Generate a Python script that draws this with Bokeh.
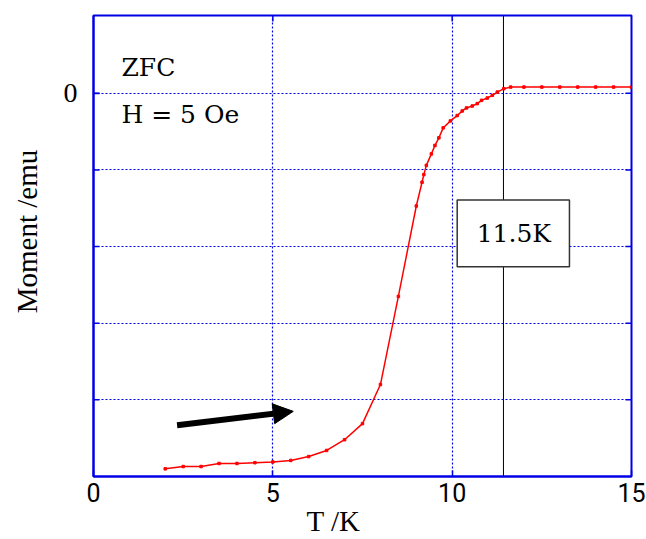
import math
from bokeh.plotting import figure
from bokeh.models import FixedTicker, Range1d, Arrow, NormalHead, Label
from bokeh.embed import file_html
from bokeh.resources import INLINE

# ---- data ----
temperature = [2.0, 2.5, 3.0, 3.5, 4.0, 4.5, 5.0, 5.5, 6.0, 6.5, 7.0, 7.5, 8.0, 8.5, 9.0,
               9.16, 9.21, 9.28, 9.42, 9.52, 9.63, 9.75, 9.95, 10.14, 10.28, 10.40, 10.56,
               10.70, 10.82, 10.98, 11.12, 11.26, 11.44, 11.63, 12.0, 12.5, 13.0, 13.5,
               14.0, 14.5, 15.0]
moment = [-4.90, -4.87, -4.87, -4.83, -4.83, -4.82, -4.81, -4.79, -4.74, -4.66, -4.52,
          -4.31, -3.80, -2.65, -1.47, -1.16, -1.06, -0.94, -0.79, -0.68, -0.58, -0.45,
          -0.36, -0.29, -0.23, -0.19, -0.165, -0.134, -0.091, -0.061, -0.026, 0.017,
          0.061, 0.082, 0.082, 0.082, 0.082, 0.082, 0.082, 0.082, 0.082]
x_ticks = [0, 5, 10, 15]
y_ticks = [-4, -3, -2, -1, 0]
y_labeled_ticks = [0]
tc_value = 11.43
tc_label = "11.5K"
note_lines = ["ZFC", "H = 5 Oe"]
x_title = "T /K"
y_title = "Moment /emu"

NB = "\u00a0"
BLUE = "#0000e6"
ANNOT_FONT = "DejaVu Serif"
X0, X1 = 0, 15
Y0, Y1 = -5, 1.016

p = figure(width=646, height=539, output_backend="svg", toolbar_location=None,
           x_range=Range1d(X0, X1), y_range=Range1d(Y0, Y1),
           min_border_left=93, min_border_right=15, min_border_top=15,
           min_border_bottom=62,
           x_axis_label=x_title + NB * 8, y_axis_label=NB * 4 + y_title)
p.background_fill_color = "white"
p.border_fill_color = "white"
p.outline_line_color = BLUE
p.outline_line_width = 2

for ax in p.xaxis + p.yaxis:
    ax.axis_line_color = BLUE
    ax.axis_line_width = 2
    ax.major_tick_line_color = BLUE
    ax.major_tick_line_width = 1.5
    ax.major_tick_in = 6
    ax.major_tick_out = 0
    ax.minor_tick_line_color = None
    ax.axis_label_text_font = "Liberation Serif"
    ax.axis_label_text_font_size = "29px"
    ax.axis_label_text_font_style = "normal"
    ax.axis_label_text_color = "black"

p.xaxis.ticker = FixedTicker(ticks=x_ticks)
p.xaxis.major_label_text_font = "Roboto"
p.xaxis.major_label_text_font_size = "25px"
p.xaxis.major_label_text_color = "black"
p.xaxis.major_label_standoff = 6
p.xaxis.axis_label_standoff = 0

p.yaxis.ticker = FixedTicker(ticks=y_labeled_ticks)
p.yaxis.major_label_text_font = "Liberation Serif"
p.yaxis.major_label_text_font_size = "28px"
p.yaxis.major_label_text_color = "black"
p.yaxis.major_label_standoff = 16
p.yaxis.axis_label_standoff = 18

for g in (p.xgrid[0], p.ygrid[0]):
    g.grid_line_color = BLUE
    g.grid_line_dash = "2 2"
    g.grid_line_width = 1.2
p.xgrid.ticker = FixedTicker(ticks=[t for t in x_ticks if X0 < t < X1])
p.ygrid.ticker = FixedTicker(ticks=y_ticks)

# inward tick marks on the other sides (clipped to the frame)
p.scatter(x=[X1] * len(y_ticks), y=y_ticks, marker="dash", size=12,
          line_color=BLUE, line_width=1.5)
p.scatter(x=[X0] * len(y_ticks), y=y_ticks, marker="dash", size=12,
          line_color=BLUE, line_width=1.5)
top_ticks = [t for t in x_ticks if X0 < t < X1]
p.scatter(x=top_ticks, y=[Y1] * len(top_ticks), marker="dash", size=12,
          angle=math.pi / 2, line_color=BLUE, line_width=1.5)

# vertical marker at Tc
p.segment(x0=[tc_value], y0=[Y0], x1=[tc_value], y1=[Y1], line_color="black", line_width=1)

# data
p.line(temperature, moment, line_color="red", line_width=1.5)
p.scatter(temperature, moment, marker="square", size=2.5, fill_color="red", line_color="red")

# Tc box
p.quad(left=[10.14], right=[13.27], bottom=[-2.262], top=[-1.393],
       fill_color="white", line_color="#333333", line_width=1.5)
p.add_layout(Label(x=11.72, y=-1.83, text=tc_label, text_font=ANNOT_FONT,
                   text_font_size="25px",
                   text_align="center", text_baseline="middle", text_color="black"))

# notes
p.add_layout(Label(x=0.78, y=0.339, text=note_lines[0], text_font=ANNOT_FONT,
                   text_font_size="25px", text_align="left", text_baseline="middle",
                   text_color="black"))
p.add_layout(Label(x=0.78, y=-0.273, text=note_lines[1], text_font=ANNOT_FONT,
                   text_font_size="25px", text_align="left", text_baseline="middle",
                   text_color="black"))

# arrow
p.add_layout(Arrow(x_start=2.33, y_start=-4.332, x_end=5.57, y_end=-4.150,
                   line_width=6, line_color="black",
                   end=NormalHead(size=20, fill_color="black", line_color="black", line_width=1)))

open("out.html", "w").write(file_html(p, INLINE))
